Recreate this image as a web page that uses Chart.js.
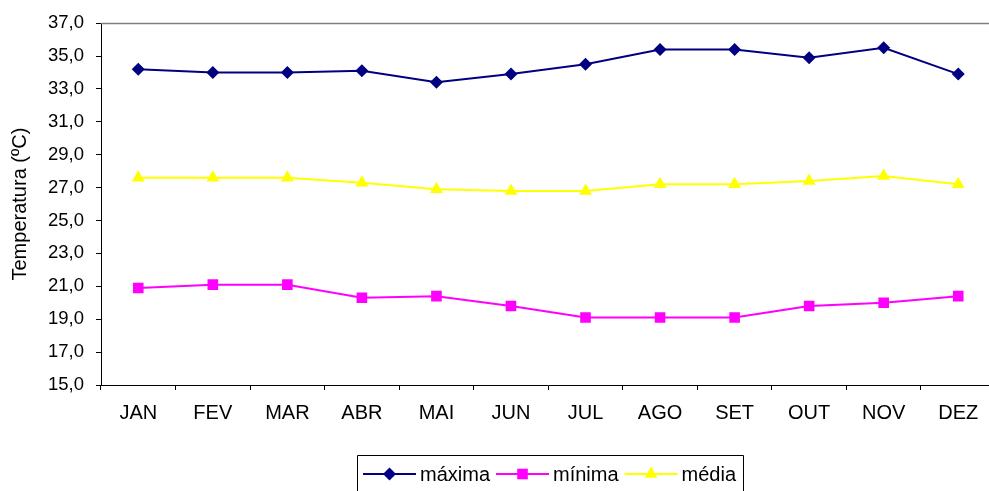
<!DOCTYPE html>
<html>
<head>
<meta charset="utf-8">
<title>Temperatura mensal</title>
<script src="https://cdn.jsdelivr.net/npm/chart.js@4/dist/chart.umd.min.js"></script>
<style>
  html, body { margin: 0; padding: 0; background: #fff; overflow: hidden; }
  #wrap { position: absolute; left: 0; top: 0; width: 1003px; height: 491px; }
</style>
</head>
<body>
<div id="wrap"><canvas id="tempChart" width="1003" height="491"></canvas></div>
<script>
// Chart data
const months = ['JAN', 'FEV', 'MAR', 'ABR', 'MAI', 'JUN', 'JUL', 'AGO', 'SET', 'OUT', 'NOV', 'DEZ'];
const maxima = [34.2, 34.0, 34.0, 34.1, 33.4, 33.9, 34.5, 35.4, 35.4, 34.9, 35.5, 33.9];
const minima = [20.9, 21.1, 21.1, 20.3, 20.4, 19.8, 19.1, 19.1, 19.1, 19.8, 20.0, 20.4];
const media = [27.6, 27.6, 27.6, 27.3, 26.9, 26.8, 26.8, 27.2, 27.2, 27.4, 27.7, 27.2];
const yTicks = [15, 17, 19, 21, 23, 25, 27, 29, 31, 33, 35, 37];

(function() {
    'use strict';

    const FONT = '"Liberation Sans", Arial, sans-serif';
    const SIZE = 20;

    // Excel-like frame and legend
    const excelLook = {
        id: 'excelLook',
        afterDraw(chart) {
            const ctx = chart.ctx;
            const area = chart.chartArea;
            ctx.save();
            // top plot border
            ctx.strokeStyle = '#808080';
            ctx.lineWidth = 1.5;
            ctx.beginPath();
            ctx.moveTo(area.left, area.top + 0.5);
            ctx.lineTo(area.right, area.top + 0.5);
            ctx.stroke();

            // legend box
            ctx.strokeStyle = '#000';
            ctx.lineWidth = 1;
            ctx.fillStyle = '#fff';
            ctx.beginPath();
            ctx.rect(357.5, 455.5, 386, 50);
            ctx.fill();
            ctx.stroke();

            ctx.font = SIZE + 'px ' + FONT;
            ctx.textBaseline = 'middle';
            ctx.textAlign = 'left';
            let x = 363;
            const y = 474;
            chart.data.datasets.forEach(function(ds) {
                ctx.strokeStyle = ds.borderColor;
                ctx.lineWidth = ds.borderWidth;
                ctx.beginPath();
                ctx.moveTo(x, y);
                ctx.lineTo(x + 53, y);
                ctx.stroke();
                ctx.fillStyle = ds.pointBackgroundColor;
                Chart.helpers.drawPoint(ctx, {
                    pointStyle: ds.pointStyle,
                    radius: ds.pointRadius,
                    rotation: 0,
                    borderWidth: 0
                }, x + 26.5, y);
                ctx.fillStyle = '#000';
                ctx.fillText(ds.label, x + 57, y + 1);
                x += 57 + ctx.measureText(ds.label).width + 6;
            });
            ctx.restore();
        }
    };

    const ctx = document.getElementById('tempChart').getContext('2d');
    new Chart(ctx, {
        type: 'line',
        data: {
            labels: months,
            datasets: [{
                label: 'máxima',
                data: maxima,
                borderColor: '#000080',
                backgroundColor: '#000080',
                pointBackgroundColor: '#000080',
                pointBorderWidth: 0,
                pointStyle: 'rectRot',
                pointRadius: 6.5,
                borderWidth: 2,
                tension: 0
            }, {
                label: 'mínima',
                data: minima,
                borderColor: '#FF00FF',
                backgroundColor: '#FF00FF',
                pointBackgroundColor: '#FF00FF',
                pointBorderWidth: 0,
                pointStyle: 'rect',
                pointRadius: 7.5,
                borderWidth: 2,
                tension: 0
            }, {
                label: 'média',
                data: media,
                borderColor: '#FFFF00',
                backgroundColor: '#FFFF00',
                pointBackgroundColor: '#FFFF00',
                pointBorderWidth: 0,
                pointStyle: 'triangle',
                pointRadius: 7.5,
                borderWidth: 2,
                tension: 0
            }]
        },
        options: {
            responsive: false,
            animation: false,
            layout: {
                padding: { top: 22, right: 0, bottom: 0, left: 0 }
            },
            plugins: {
                legend: { display: false },
                tooltip: { enabled: false }
            },
            scales: {
                x: {
                    offset: true,
                    afterFit: function(s) { s.height = 106; },
                    grid: {
                        offset: true,
                        drawOnChartArea: false,
                        drawTicks: true,
                        tickLength: 5,
                        color: '#000'
                    },
                    border: { display: true, color: '#000', width: 1 },
                    ticks: {
                        color: '#000',
                        padding: 11,
                        maxRotation: 0,
                        font: { family: FONT, size: SIZE }
                    }
                },
                y: {
                    min: 15,
                    max: 37,
                    afterFit: function(s) { s.width = 101; },
                    afterBuildTicks: function(s) {
                        s.ticks = yTicks.map(function(v) { return { value: v }; });
                    },
                    grid: {
                        drawOnChartArea: false,
                        drawTicks: true,
                        tickLength: 5,
                        color: '#000'
                    },
                    border: { display: true, color: '#000', width: 1 },
                    ticks: {
                        color: '#000',
                        padding: 12,
                        font: { family: FONT, size: 18.5 },
                        callback: function(v) { return v.toFixed(1).replace('.', ','); }
                    },
                    title: {
                        display: true,
                        text: 'Temperatura (ºC)',
                        color: '#000',
                        padding: { top: 8, bottom: 0 },
                        font: { family: FONT, size: SIZE }
                    }
                }
            }
        },
        plugins: [excelLook]
    });
})();
</script>
</body>
</html>
